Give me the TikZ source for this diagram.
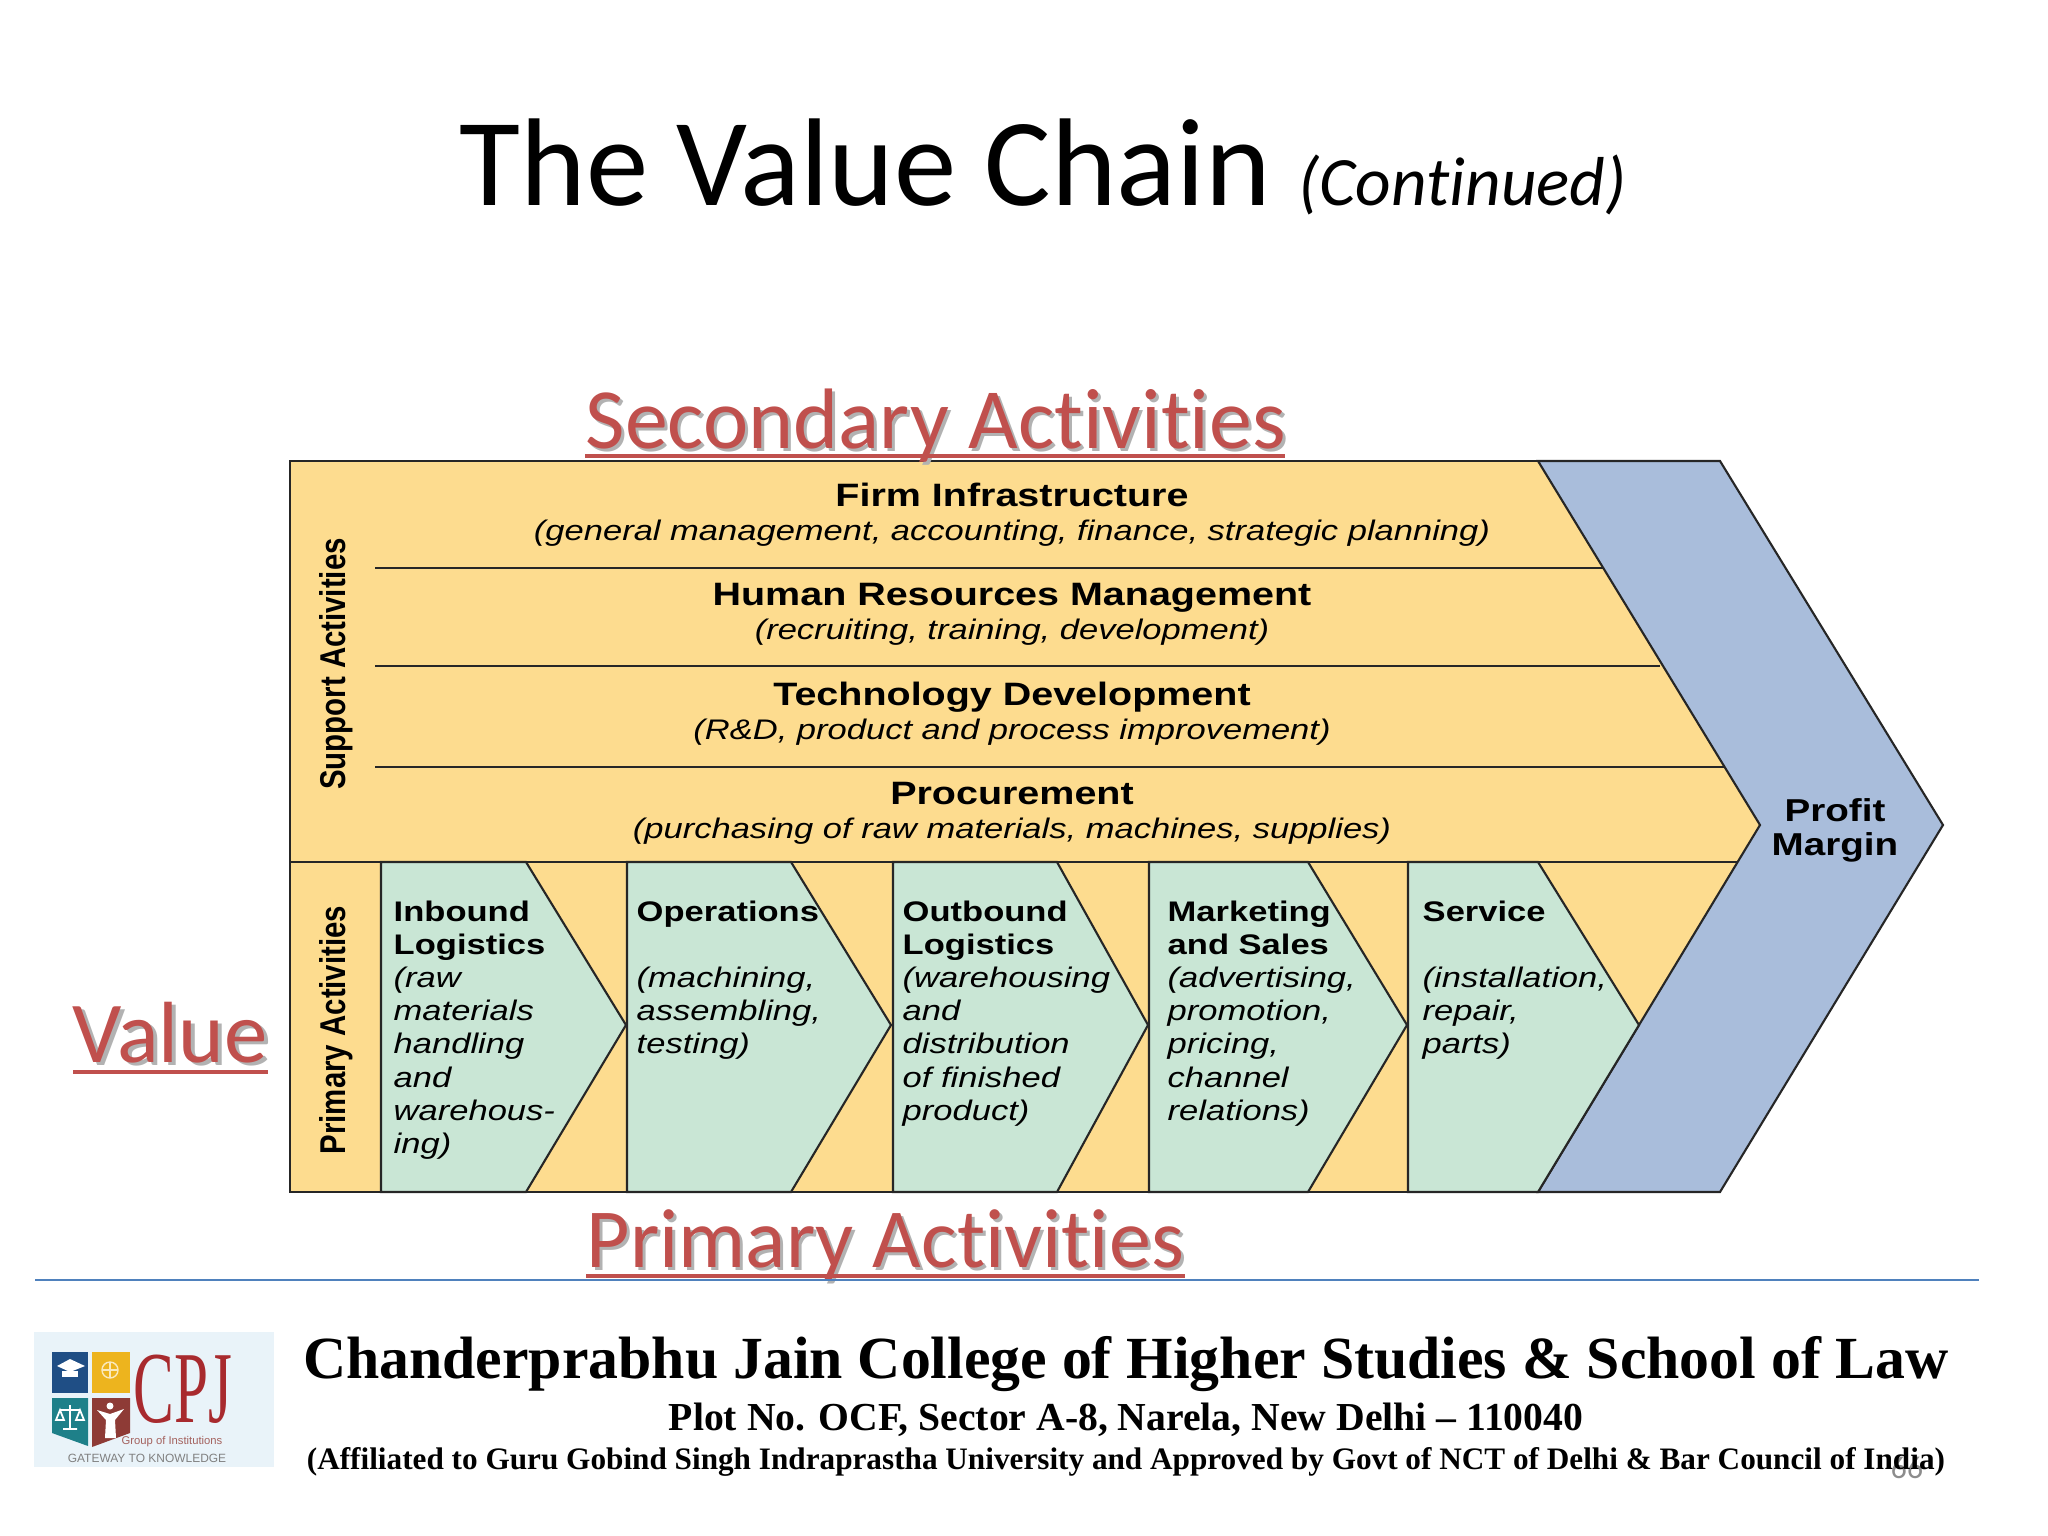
\documentclass[tikz,border=0pt]{standalone}
\usepackage{fontspec}
\usepackage{xcolor}
\usetikzlibrary{positioning}
\setmainfont{Liberation Serif}
\newfontfamily\slidefont[Ligatures=NoCommon]{Carlito}
\newfontfamily\chartfont[FakeStretch=1.22]{Liberation Sans}
\newfontfamily\sidefont[FakeStretch=0.82]{Liberation Sans}
\newfontfamily\crestfont[FakeStretch=0.6]{Liberation Serif}
\newfontfamily\plainfont{Liberation Sans}
\definecolor{barYellow}{HTML}{FDDC8F}
\definecolor{barGreen}{HTML}{C9E6D5}
\definecolor{barBlue}{HTML}{A9BDDB}
\definecolor{noteRed}{HTML}{C0504D}
\definecolor{ruleBlue}{HTML}{4F81BD}
\definecolor{crestBack}{HTML}{E9F3F9}
\definecolor{crestNavy}{HTML}{1F4E85}
\definecolor{crestGold}{HTML}{EDB41E}
\definecolor{crestTeal}{HTML}{1E8089}
\definecolor{crestBrown}{HTML}{8E3B36}
\definecolor{crestRed}{HTML}{A82A2E}
\newcommand{\hd}[1]{\textbf{#1}}
\newcommand{\nt}[1]{\textit{#1}}
\tikzset{
  chart line/.style={draw=black!85, line width=0.6pt},
  band head/.style={font=\chartfont\bfseries\fontsize{9.2}{9.6}\selectfont, text height=1.6mm, text depth=0.4mm, inner sep=0pt},
  band note/.style={font=\chartfont\itshape\fontsize{8.05}{9.6}\selectfont, text height=1.6mm, text depth=0.4mm, inner sep=0pt},
  step text/.style={font=\chartfont\fontsize{8.05}{9.4}\selectfont, anchor=north west, align=left, inner sep=0pt},
  side text/.style={font=\sidefont\bfseries\fontsize{10.2}{10.5}\selectfont, rotate=90, inner sep=0pt},
  red note/.style={text=noteRed, anchor=base west, inner sep=0pt},
  red shadow/.style={text=black!30, anchor=base west, inner sep=0pt},
  foot text/.style={inner sep=0pt, anchor=base},
}
\begin{document}
\begin{tikzpicture}[x=0.01cm, y=-0.01cm]
  \useasboundingbox (0,0) rectangle (2048,1536);

  % title
  \node[font=\slidefont\fontsize{35.5}{38}\selectfont, anchor=base west, inner sep=0pt] (n0) at (459,205) {The Value Chain};
  \node[font=\slidefont\itshape\fontsize{19.7}{22}\selectfont, anchor=base west, inner sep=0pt] (n1) at (1298,205) {(Continued)};

  % chart background
  \fill[barYellow] (290,461) -- (1538,461) -- (1760,825) -- (1538,1192) -- (290,1192) -- cycle;
  \draw[chart line, fill=barBlue] (1538,461) -- (1720,461) -- (1943,825) -- (1720,1192) -- (1538,1192) -- (1760,825) -- cycle;
  \draw[chart line, line width=0.8pt] (1538,461) -- (290,461) -- (290,1192) -- (1538,1192);

  % primary steps
  \draw[chart line, fill=barGreen] (381,862) -- (526,862) -- (626,1025) -- (526,1192) -- (381,1192) -- cycle;
  \draw[chart line, fill=barGreen] (627,862) -- (791,862) -- (891,1025) -- (791,1192) -- (627,1192) -- cycle;
  \draw[chart line, fill=barGreen] (893,862) -- (1057,862) -- (1148,1025) -- (1057,1192) -- (893,1192) -- cycle;
  \draw[chart line, fill=barGreen] (1149,862) -- (1308,862) -- (1407,1025) -- (1308,1192) -- (1149,1192) -- cycle;
  \draw[chart line, fill=barGreen] (1408,862) -- (1538,862) -- (1639,1025) -- (1538,1192) -- (1408,1192) -- cycle;

  % support bands
  \coordinate (b0) at (290,862);
  \coordinate (b1) at (1738,862);
  \coordinate (b2) at (375,568);
  \coordinate (b3) at (1604,568);
  \coordinate (b4) at (375,666);
  \coordinate (b5) at (1660,666);
  \coordinate (b6) at (375,767);
  \coordinate (b7) at (1724,767);
  \draw[chart line, line width=0.8pt] (b0) -- (b1);
  \draw[chart line] (b2) -- (b3);
  \draw[chart line] (b4) -- (b5);
  \draw[chart line] (b6) -- (b7);

  \node[band head] (n2) at (1012,500) {Firm Infrastructure};
  \node[band note, below of=n2, node distance=0.34cm] (n3) {(general management, accounting, finance, strategic planning)};
  \node[band head] (n4) at (1012,599) {Human Resources Management};
  \node[band note, below of=n4, node distance=0.34cm] (n5) {(recruiting, training, development)};
  \node[band head] (n6) at (1012,699) {Technology Development};
  \node[band note, below of=n6, node distance=0.34cm] (n7) {(R\&D, product and process improvement)};
  \node[band head] (n8) at (1012,798) {Procurement};
  \node[band note, below of=n8, node distance=0.34cm] (n9) {(purchasing of raw materials, machines, supplies)};

  \node[side text] (n10) at (336,664) {Support Activities};
  \node[side text] (n11) at (336,1030) {Primary Activities};

  \node[step text] (n12) at (393,900.5) {\hd{Inbound}\\\hd{Logistics}\\\nt{(raw}\\\nt{materials}\\\nt{handling}\\\nt{and}\\\nt{warehous-}\\\nt{ing)}};
  \node[step text] (n13) at (636,900.5) {\hd{Operations}\\\mbox{}\\\nt{(machining,}\\\nt{assembling,}\\\nt{testing)}};
  \node[step text] (n14) at (902,900.5) {\hd{Outbound}\\\hd{Logistics}\\\nt{(warehousing}\\\nt{and}\\\nt{distribution}\\\nt{of finished}\\\nt{product)}};
  \node[step text] (n15) at (1167,900.5) {\hd{Marketing}\\\hd{and Sales}\\\nt{(advertising,}\\\nt{promotion,}\\\nt{pricing,}\\\nt{channel}\\\nt{relations)}};
  \node[step text] (n16) at (1422,900.5) {\hd{Service}\\\mbox{}\\\nt{(installation,}\\\nt{repair,}\\\nt{parts)}};

  \node[font=\chartfont\bfseries\fontsize{9}{9.6}\selectfont, align=center, inner sep=0pt] (n17) at (1835,830) {Profit\\Margin};

  % red notes
  \node[red shadow, font=\slidefont\fontsize{24.4}{26}\selectfont] (s1) at (588,451) {Secondary Activities};
  \node[red note, font=\slidefont\fontsize{24.4}{26}\selectfont] (n18) at (585,448) {Secondary Activities};
  \node[red shadow, font=\slidefont\fontsize{24.7}{26}\selectfont] (s2) at (76,1065) {Value};
  \node[red note, font=\slidefont\fontsize{24.7}{26}\selectfont] (n19) at (72,1062) {Value};
  \node[red shadow, font=\slidefont\fontsize{23.9}{26}\selectfont] (s3) at (589,1270) {Primary Activities};
  \node[red note, font=\slidefont\fontsize{23.9}{26}\selectfont] (n20) at (586,1267) {Primary Activities};
  \coordinate (u1) at (585,456);
  \coordinate (u2) at (1285,456);
  \coordinate (u3) at (73,1072);
  \coordinate (u4) at (268,1072);
  \coordinate (u5) at (586,1276);
  \coordinate (u6) at (1185,1276);
  \draw[noteRed, line width=1.2pt] (u1) -- (u2);
  \draw[noteRed, line width=1.2pt] (u3) -- (u4);
  \draw[noteRed, line width=1.2pt] (u5) -- (u6);

  % footer
  \coordinate (r0) at (35,1280);
  \coordinate (r1) at (1979,1280);
  \draw[ruleBlue, line width=0.6pt] (r0) -- (r1);

  % crest
  \fill[crestBack] (34,1332) rectangle (274,1467);
  \fill[crestNavy] (52,1352) rectangle (88,1393);
  \fill[crestGold] (92,1352) rectangle (130,1393);
  \fill[crestTeal] (52,1398) -- (88,1398) -- (88,1446) -- (52,1433) -- cycle;
  \fill[crestBrown] (92,1398) -- (130,1398) -- (130,1433) -- (92,1447) -- cycle;
  \fill[white] (57,1366) -- (70,1359) -- (85,1366) -- (70,1372) -- cycle;
  \fill[white] (62,1371) -- (78,1371) -- (78,1377) -- (62,1377) -- cycle;
  \draw[white!70!crestGold, line width=0.4pt] (110,1370) circle (8);
  \draw[white!70!crestGold, line width=0.3pt] (110,1362) -- (110,1378) (102,1370) -- (118,1370);
  \draw[white, line width=0.5pt] (70,1405) -- (70,1428) (60,1410) -- (80,1410) (60,1410) -- (56,1420) -- (64,1420) -- cycle (80,1410) -- (76,1420) -- (84,1420) -- cycle (63,1429) -- (77,1429);
  \fill[white] (110,1406) circle (3.5);
  \fill[white] (97,1410) -- (110,1414) -- (124,1409) -- (115,1420) -- (116,1438) -- (105,1438) -- (106,1420) -- cycle;
  \node[font=\crestfont\fontsize{29}{29}\selectfont, text=crestRed, anchor=base west, inner sep=0pt] (n21) at (133,1422) {CPJ};
  \node[font=\plainfont\fontsize{3.2}{3.5}\selectfont, text=crestBrown!80, inner sep=0pt] (n22) at (172,1442) {Group of Institutions};
  \node[font=\plainfont\fontsize{3.4}{4}\selectfont, text=black!50, inner sep=0pt] (n23) at (147,1458) {GATEWAY TO KNOWLEDGE};

  \node[text=black!45, font=\slidefont\fontsize{9}{10}\selectfont, inner sep=0pt] (n24) at (1907,1468) {66};
  \node[foot text, font=\bfseries\fontsize{17}{19}\selectfont] (n25) at (1126,1378) {Chanderprabhu Jain College of Higher Studies \& School of Law};
  \node[foot text, font=\bfseries\fontsize{11.28}{13}\selectfont] (n26) at (1126,1430) {Plot No. OCF, Sector A-8, Narela, New Delhi -- 110040};
  \node[foot text, font=\bfseries\fontsize{8.88}{11}\selectfont] (n27) at (1126,1469) {(Affiliated to Guru Gobind Singh Indraprastha University and Approved by Govt of NCT of Delhi \& Bar Council of India)};
\end{tikzpicture}
\end{document}
